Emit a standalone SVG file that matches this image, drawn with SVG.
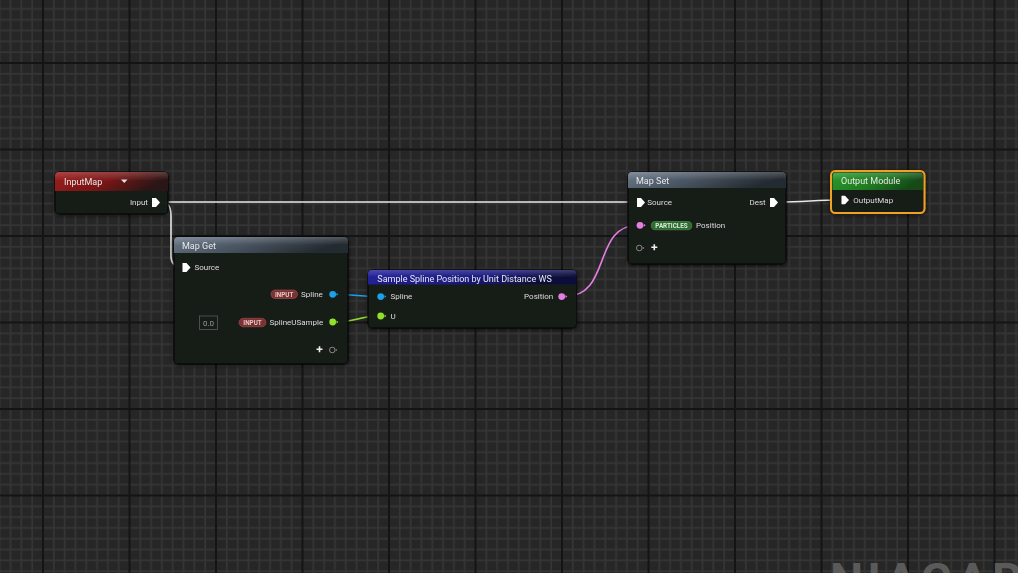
<svg xmlns="http://www.w3.org/2000/svg" width="1018" height="573" viewBox="0 0 1018 573">
<defs>
<pattern id="grid" patternUnits="userSpaceOnUse" x="43" y="63" width="86.5" height="86.5">
<rect width="86.5" height="86.5" fill="#262626"/>
<g fill="#353535">
<rect x="9.96" y="0" width="1.7" height="86.5"/><rect x="20.78" y="0" width="1.7" height="86.5"/><rect x="31.59" y="0" width="1.7" height="86.5"/><rect x="42.4" y="0" width="1.7" height="86.5"/><rect x="53.21" y="0" width="1.7" height="86.5"/><rect x="64.03" y="0" width="1.7" height="86.5"/><rect x="74.84" y="0" width="1.7" height="86.5"/>
<rect y="9.96" x="0" height="1.7" width="86.5"/><rect y="20.78" x="0" height="1.7" width="86.5"/><rect y="31.59" x="0" height="1.7" width="86.5"/><rect y="42.4" x="0" height="1.7" width="86.5"/><rect y="53.21" x="0" height="1.7" width="86.5"/><rect y="64.03" x="0" height="1.7" width="86.5"/><rect y="74.84" x="0" height="1.7" width="86.5"/>
</g>
<g fill="#141414">
<rect x="0" y="0" width="1" height="86.5"/><rect x="85.5" y="0" width="1" height="86.5"/>
<rect x="0" y="0" height="1" width="86.5"/><rect y="85.5" x="0" height="1" width="86.5"/>
</g>
</pattern>
<linearGradient id="hRed" x1="0" y1="0" x2="1" y2="0.3"><stop offset="0" stop-color="#9c1c1c"/><stop offset="0.55" stop-color="#7a1818"/><stop offset="1" stop-color="#2a1212"/></linearGradient>
<linearGradient id="hGray" x1="0" y1="0" x2="1" y2="0.3"><stop offset="0" stop-color="#6a7888"/><stop offset="0.5" stop-color="#4a5562"/><stop offset="1" stop-color="#242a30"/></linearGradient>
<linearGradient id="hBlue" x1="0" y1="0" x2="1" y2="0.3"><stop offset="0" stop-color="#2424a0"/><stop offset="0.6" stop-color="#1a1a80"/><stop offset="1" stop-color="#10103a"/></linearGradient>
<linearGradient id="hGreen" x1="0" y1="0" x2="1" y2="0.3"><stop offset="0" stop-color="#2a9a2a"/><stop offset="0.6" stop-color="#1f7a22"/><stop offset="1" stop-color="#164a18"/></linearGradient>
<linearGradient id="shine" x1="0" y1="0" x2="0" y2="1"><stop offset="0" stop-color="#ffffff" stop-opacity="0.18"/><stop offset="1" stop-color="#ffffff" stop-opacity="0"/></linearGradient>
<filter id="sh" x="-10%" y="-20%" width="120%" height="140%"><feGaussianBlur in="SourceAlpha" stdDeviation="2"/><feOffset dx="0" dy="1"/><feComponentTransfer><feFuncA type="linear" slope="0.7"/></feComponentTransfer><feMerge><feMergeNode/><feMergeNode in="SourceGraphic"/></feMerge></filter>
</defs>
<style>
.body{fill:#191a19;fill-opacity:0.96;stroke:#0a0a0a;stroke-width:1}
.title{font-family:Roboto,"Liberation Sans",sans-serif;font-size:9px;fill:#e8e8e8}
.lbl{font-family:Roboto,"Liberation Sans",sans-serif;font-size:8px;fill:#dcdcdc}
.pill{font-family:Roboto,"Liberation Sans",sans-serif;font-size:6.3px;font-weight:bold;text-anchor:middle}
.exec{fill:#ffffff}
.wire{fill:none;stroke-width:1.6}
</style>
<rect width="1018" height="573" fill="url(#grid)"/>
<text x="830" y="596" font-family="Roboto,'Liberation Sans',sans-serif" font-weight="bold" font-size="47" fill="#5a5a5a" letter-spacing="4">NIAGARA</text>

<g id="connectors">
<path class="wire" stroke="#e8e8e8" d="M160,202 L637,202"/>
<path class="wire" stroke="#e8e8e8" d="M160,202 C168,202 171,206 171,216 L171,256 C171,264 175,267 182,267"/>
<path class="wire" stroke="#e8e8e8" d="M778,202 C805,202 815,200 841,200"/>
<path class="wire" stroke="#1aa0ea" d="M336,294.5 C355,294.5 360,296.5 378,296.5"/>
<path class="wire" stroke="#8ee22a" d="M336,322 C355,322 360,316 378,316"/>
<path class="wire" stroke="#e37ee3" d="M565,296.5 C612,296.5 592,225.3 638,225.3"/>
</g>

<g id="node-inputmap" filter="url(#sh)">
<rect class="body" x="55" y="172" width="113" height="42" rx="4"/>
<path d="M59,172 H164 A4,4 0 0 1 168,176 V191 H55 V176 A4,4 0 0 1 59,172 Z" fill="url(#hRed)"/>
<path d="M59,172 H164 A4,4 0 0 1 168,176 V181 H55 V176 A4,4 0 0 1 59,172 Z" fill="url(#shine)"/>
<text class="title" x="64" y="185">InputMap</text>
<path d="M121,179.5 H127.5 L124.25,183 Z" fill="#e0e0e0"/>
<text class="lbl" x="148" y="205" text-anchor="end">Input</text>
<path class="exec" d="M152,198 H156 L160,202.5 L156,207 H152 Z"/>
</g>

<g id="node-mapget" filter="url(#sh)">
<rect class="body" x="174" y="237" width="174" height="127" rx="4"/>
<path d="M178,237 H344 A4,4 0 0 1 348,241 V253 H174 V241 A4,4 0 0 1 178,237 Z" fill="url(#hGray)"/>
<path d="M178,237 H344 A4,4 0 0 1 348,241 V245 H174 V241 A4,4 0 0 1 178,237 Z" fill="url(#shine)"/>
<text class="title" x="182" y="249">Map Get</text>
<path class="exec" d="M182.5,263 H186.5 L190.5,267.5 L186.5,272 H182.5 Z"/>
<text class="lbl" x="194.5" y="270">Source</text>
<rect x="271" y="290" width="26.5" height="8.5" rx="4.2" fill="#7a3232" stroke="#a05050" stroke-width="0.6"/>
<text class="pill" x="284.2" y="296.6" fill="#e8c4c4">INPUT</text>
<text class="lbl" x="301" y="297">Spline</text>
<circle cx="332.7" cy="294.3" r="3.4" fill="#1aa0ea"/>
<path d="M336.5,292.8 L338.3,294.3 L336.5,295.8 Z" fill="#1aa0ea"/>
<rect x="199.5" y="316" width="18" height="13.5" fill="none" stroke="#5a5a5a" stroke-width="0.8"/>
<text class="lbl" x="208.5" y="326" text-anchor="middle" style="fill:#9a9a9a">0.0</text>
<rect x="239" y="318.3" width="27" height="8.5" rx="4.2" fill="#7a3232" stroke="#a05050" stroke-width="0.6"/>
<text class="pill" x="252.5" y="324.9" fill="#e8c4c4">INPUT</text>
<text class="lbl" x="269.5" y="325">SplineUSample</text>
<circle cx="332.7" cy="322" r="3.4" fill="#8ee22a"/>
<path d="M336.5,320.5 L338.3,322 L336.5,323.5 Z" fill="#8ee22a"/>
<path d="M316.5,349.3 H322.5 M319.5,346.3 V352.3" stroke="#f0f0f0" stroke-width="1.6"/>
<circle cx="332.3" cy="350" r="2.8" fill="none" stroke="#8a8a8a" stroke-width="1"/>
<path d="M335.8,348.8 L337.3,350 L335.8,351.2 Z" fill="#8a8a8a"/>
</g>

<g id="node-samplespline" filter="url(#sh)">
<rect class="body" x="368" y="270" width="208.5" height="58" rx="4"/>
<path d="M372,270 H572.5 A4,4 0 0 1 576.5,274 V284.5 H368 V274 A4,4 0 0 1 372,270 Z" fill="url(#hBlue)"/>
<path d="M372,270 H572.5 A4,4 0 0 1 576.5,274 V277 H368 V274 A4,4 0 0 1 372,270 Z" fill="url(#shine)"/>
<text class="title" x="377.3" y="281.5">Sample Spline Position by Unit Distance WS</text>
<circle cx="380.7" cy="296.6" r="3.4" fill="#1aa0ea"/>
<path d="M384.5,295.1 L386.3,296.6 L384.5,298.1 Z" fill="#1aa0ea"/>
<text class="lbl" x="390.5" y="299.3">Spline</text>
<circle cx="380.7" cy="316" r="3.4" fill="#8ee22a"/>
<path d="M384.5,314.5 L386.3,316 L384.5,317.5 Z" fill="#8ee22a"/>
<text class="lbl" x="390.5" y="318.7">U</text>
<text class="lbl" x="553.3" y="299.3" text-anchor="end">Position</text>
<circle cx="561.7" cy="296.6" r="3.4" fill="#e37ee3"/>
<path d="M565.5,295.1 L567.3,296.6 L565.5,298.1 Z" fill="#e37ee3"/>
</g>

<g id="node-mapset" filter="url(#sh)">
<rect class="body" x="628" y="172" width="158" height="92" rx="4"/>
<path d="M632,172 H782 A4,4 0 0 1 786,176 V188 H628 V176 A4,4 0 0 1 632,172 Z" fill="url(#hGray)"/>
<path d="M632,172 H782 A4,4 0 0 1 786,176 V180 H628 V176 A4,4 0 0 1 632,172 Z" fill="url(#shine)"/>
<text class="title" x="636" y="184">Map Set</text>
<path class="exec" d="M637,198 H641 L645,202.5 L641,207 H637 Z"/>
<text class="lbl" x="647.3" y="204.8">Source</text>
<text class="lbl" x="765.7" y="204.8" text-anchor="end">Dest</text>
<path class="exec" d="M770,198 H774 L778,202.5 L774,207 H770 Z"/>
<circle cx="640" cy="225.3" r="3.4" fill="#e37ee3"/>
<path d="M643.8,223.8 L645.6,225.3 L643.8,226.8 Z" fill="#e37ee3"/>
<rect x="651.3" y="221.5" width="40.5" height="8.3" rx="4.1" fill="#2e6a30" stroke="#4e9a50" stroke-width="0.6"/>
<text class="pill" x="671.5" y="228" fill="#d8ecd8">PARTICLES</text>
<text class="lbl" x="696" y="228.3">Position</text>
<circle cx="639.3" cy="248" r="2.8" fill="none" stroke="#8a8a8a" stroke-width="1"/>
<path d="M642.8,246.8 L644.3,248 L642.8,249.2 Z" fill="#8a8a8a"/>
<path d="M651.3,247.3 H657.3 M654.3,244.3 V250.3" stroke="#f0f0f0" stroke-width="1.6"/>
</g>

<g id="node-outputmodule" filter="url(#sh)">
<rect x="831" y="171" width="93.5" height="42" rx="4.5" fill="#191a19" stroke="#f0a020" stroke-width="2"/>
<path d="M835,172.5 H919.5 A3.5,3.5 0 0 1 923,176 V190 H832.5 V176 A3.5,3.5 0 0 1 835,172.5 Z" fill="url(#hGreen)"/>
<path d="M835,172.5 H919.5 A3.5,3.5 0 0 1 923,176 V180 H832.5 V176 A3.5,3.5 0 0 1 835,172.5 Z" fill="url(#shine)"/>
<text class="title" x="841" y="184">Output Module</text>
<path class="exec" d="M841.5,195.8 H845 L849,200 L845,204.3 H841.5 Z"/>
<text class="lbl" x="853.3" y="202.8">OutputMap</text>
</g>
</svg>
